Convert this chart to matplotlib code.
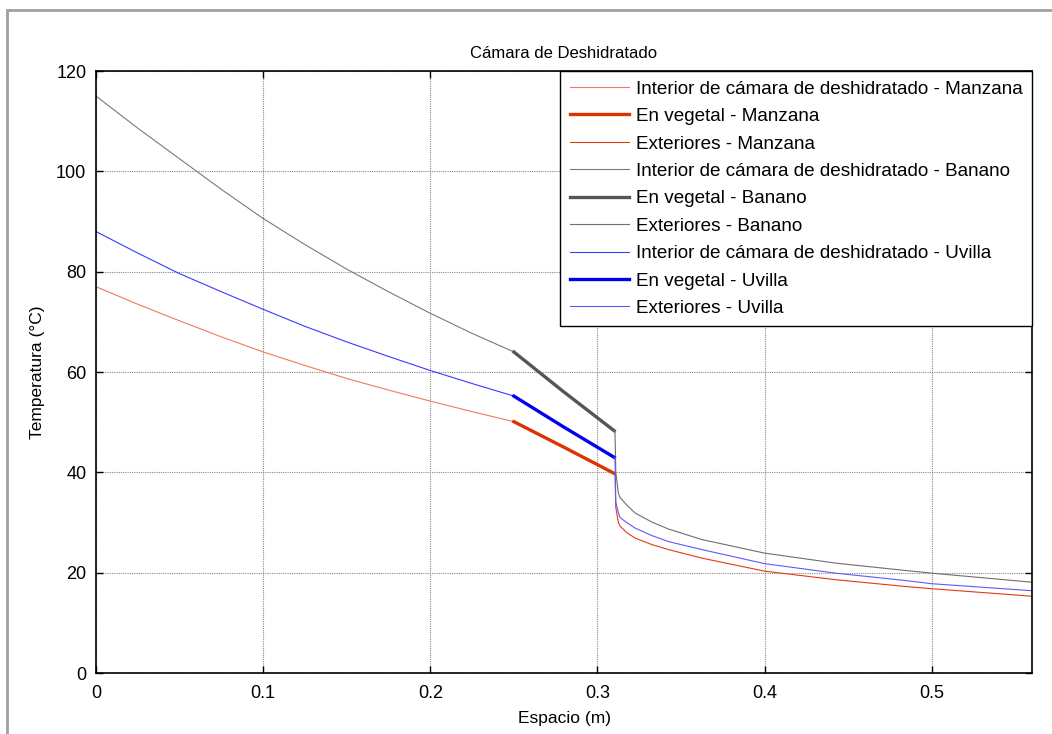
import matplotlib
matplotlib.use("Agg")
import matplotlib.pyplot as plt
from matplotlib.patches import Rectangle

plt.rcParams['font.family'] = ['Liberation Sans', 'DejaVu Sans']

# ---- data ----
x_int = [0.0, 0.025, 0.05, 0.075, 0.10, 0.125, 0.15, 0.175, 0.20, 0.225, 0.25]
manzana_int = [77.0, 73.5, 70.2, 67.0, 64.0, 61.3, 58.7, 56.4, 54.2, 52.1, 50.1]
banano_int = [115.0, 108.6, 102.5, 96.4, 90.6, 85.4, 80.5, 76.0, 71.7, 67.7, 64.0]
uvilla_int = [88.0, 83.7, 79.6, 76.0, 72.5, 69.1, 66.0, 63.1, 60.3, 57.7, 55.2]

x_veg = [0.25, 0.28, 0.31]
manzana_veg = [50.1, 45.0, 39.8]
banano_veg = [64.0, 56.0, 48.3]
uvilla_veg = [55.2, 49.0, 43.0]

x_ext = [0.31, 0.3105, 0.311, 0.3125, 0.3135, 0.3175, 0.3225, 0.3325,
         0.3425, 0.3625, 0.40, 0.4425, 0.4825, 0.50, 0.56]
manzana_ext = [39.8, 39.8, 33.0, 30.0, 29.3, 28.0, 26.9, 25.6,
               24.6, 22.9, 20.3, 18.6, 17.3, 16.8, 15.3]
banano_ext = [48.3, 48.3, 40.0, 35.9, 35.0, 33.5, 31.9, 30.1,
              28.7, 26.6, 23.9, 21.9, 20.5, 19.9, 18.1]
uvilla_ext = [43.0, 43.0, 34.0, 32.0, 31.0, 30.0, 28.9, 27.4,
              26.2, 24.6, 21.8, 19.9, 18.5, 17.8, 16.4]

labels = [
    "Interior de cámara de deshidratado - Manzana",
    "En vegetal - Manzana",
    "Exteriores - Manzana",
    "Interior de cámara de deshidratado - Banano",
    "En vegetal - Banano",
    "Exteriores - Banano",
    "Interior de cámara de deshidratado - Uvilla",
    "En vegetal - Uvilla",
    "Exteriores - Uvilla",
]

fig = plt.figure(figsize=(10.52, 7.34), dpi=100)
fig.patch.set_facecolor('white')
# gray window border (left/top visible)
fig.patches.append(Rectangle((7 / 1052, -0.5), 2.0, 0.5 + (1 - 10 / 734),
                             transform=fig.transFigure, fill=False,
                             edgecolor='#a0a0a0', lw=2.0, clip_on=False))

ax = fig.add_axes([96 / 1052, 1 - 673 / 734, (1032 - 96) / 1052, (673 - 71) / 734])

thin = 0.8
thick = 2.4
series = [
    (x_int, manzana_int, '#f07a5c', thin),
    (x_veg, manzana_veg, '#dd3300', thick),
    (x_ext, manzana_ext, '#e03a1a', thin),
    (x_int, banano_int, '#7a7a7a', thin),
    (x_veg, banano_veg, '#555555', thick),
    (x_ext, banano_ext, '#6e6e6e', thin),
    (x_int, uvilla_int, '#3a3aff', thin),
    (x_veg, uvilla_veg, '#0000ee', thick),
    (x_ext, uvilla_ext, '#5a5aff', thin),
]
for (xs, ys, c, lw), lab in zip(series, labels):
    ax.plot(xs, ys, color=c, lw=lw, label=lab)

ax.set_xlim(0, 0.56)
ax.set_ylim(0, 120)
ax.set_xticks([0, 0.1, 0.2, 0.3, 0.4, 0.5])
ax.set_xticklabels(['0', '0.1', '0.2', '0.3', '0.4', '0.5'])
ax.set_yticks([0, 20, 40, 60, 80, 100, 120])
ax.grid(True, color='#8a8a8a', linestyle=(0, (1, 1)), lw=0.8)
ax.tick_params(direction='in', length=5, width=1, top=True, right=True,
               labelsize=13)
ax.tick_params(axis='x', pad=9)
ax.tick_params(axis='y', pad=7)
for s in ax.spines.values():
    s.set_linewidth(1.2)
    s.set_color('black')

ax.set_title("Cámara de Deshidratado", fontsize=12, pad=9)
ax.set_xlabel("Espacio (m)", fontsize=12.5, labelpad=6)
ax.set_ylabel("Temperatura (°C)", fontsize=12.5, labelpad=8)

leg = ax.legend(loc='upper right', fontsize=13.6, frameon=True, fancybox=False,
                borderaxespad=0.0, handlelength=3.15, handletextpad=0.35,
                labelspacing=0.54, borderpad=0.5)
leg.get_frame().set_edgecolor('black')
leg.get_frame().set_linewidth(1.0)
leg.get_frame().set_alpha(1.0)

fig.savefig("out.png", dpi=100, facecolor='white')
